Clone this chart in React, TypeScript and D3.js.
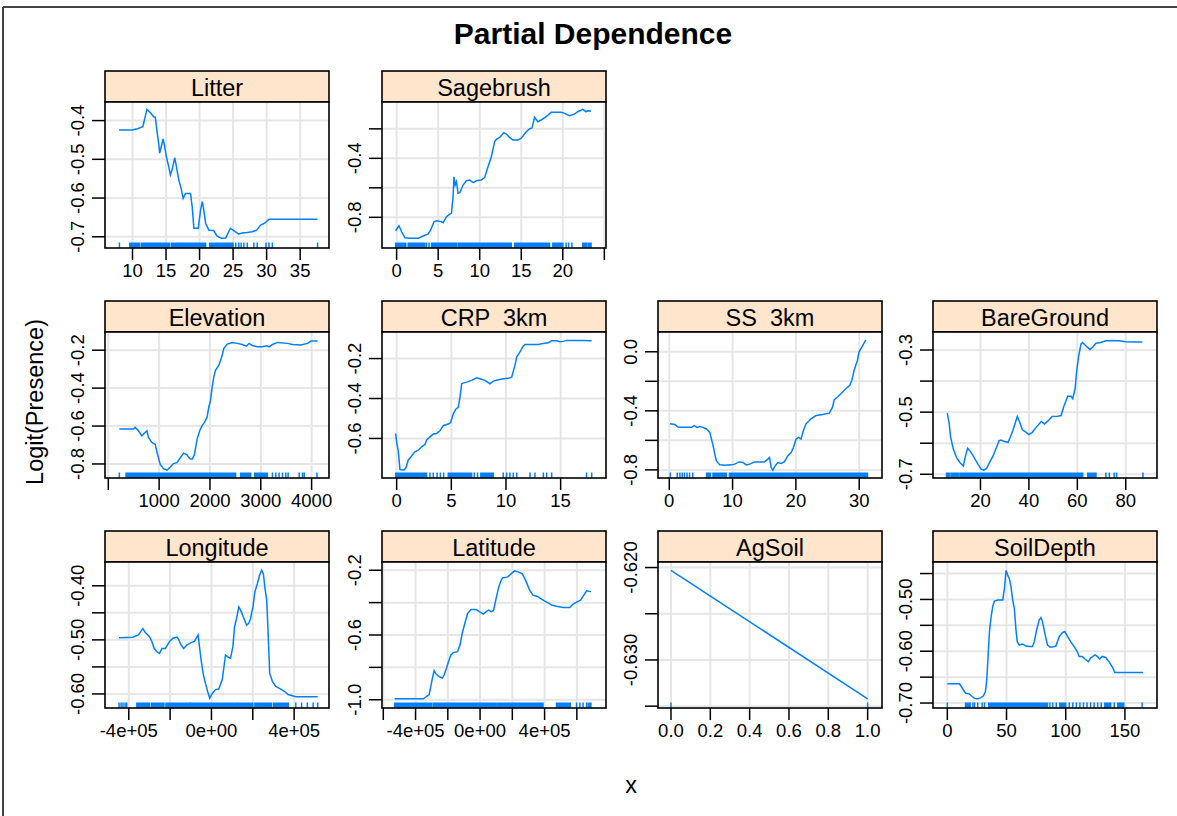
import React from "react";
import * as d3 from "d3";

// ---------- data ----------
const litterCurve = [[8.0,-0.424],[9.9,-0.424],[10.75,-0.421],[11.55,-0.416],[12.15,-0.371],[12.65,-0.379],[13.15,-0.390],[13.4,-0.391],[13.65,-0.428],[13.9,-0.458],[14.05,-0.484],[14.3,-0.467],[14.55,-0.447],[14.75,-0.463],[15.05,-0.493],[15.4,-0.519],[15.65,-0.540],[15.9,-0.527],[16.3,-0.496],[16.55,-0.519],[16.9,-0.553],[17.25,-0.575],[17.55,-0.601],[17.9,-0.588],[18.65,-0.588],[18.9,-0.622],[19.15,-0.678],[19.5,-0.678],[19.8,-0.678],[20.15,-0.631],[20.4,-0.609],[20.6,-0.627],[20.9,-0.665],[21.4,-0.683],[22.1,-0.684],[22.6,-0.698],[23.25,-0.704],[23.9,-0.703],[24.6,-0.678],[25.1,-0.684],[25.85,-0.693],[26.35,-0.690],[27.1,-0.689],[27.85,-0.687],[28.5,-0.683],[29.1,-0.670],[29.7,-0.665],[30.35,-0.655],[31.6,-0.655],[37.6,-0.655]];
const litterRug = [[8.05,8.05],[9.6,11.0],[11.3,15.5],[15.8,20.9],[21.5,25.0],[25.4,25.4],[25.85,25.85],[26.2,26.2],[26.6,26.6],[27.1,27.1],[28.1,28.1],[28.6,28.6],[29.9,29.9],[30.35,30.35],[30.85,30.85],[37.6,37.6]];

const sagebrushCurve = [[-0.12,-0.891],[0.28,-0.857],[0.6,-0.898],[1.0,-0.938],[1.6,-0.942],[2.6,-0.942],[3.2,-0.927],[3.8,-0.913],[4.1,-0.886],[4.5,-0.830],[4.8,-0.823],[5.4,-0.830],[5.6,-0.837],[6.0,-0.796],[6.4,-0.778],[6.6,-0.773],[6.8,-0.656],[6.9,-0.525],[7.05,-0.581],[7.2,-0.559],[7.4,-0.637],[7.6,-0.633],[8.0,-0.581],[8.4,-0.552],[8.8,-0.547],[9.2,-0.565],[9.6,-0.552],[10.2,-0.547],[10.6,-0.529],[11.0,-0.457],[11.4,-0.389],[11.8,-0.287],[12.0,-0.271],[12.4,-0.258],[12.9,-0.226],[13.2,-0.235],[13.6,-0.258],[14.0,-0.276],[14.6,-0.276],[15.0,-0.264],[15.6,-0.220],[16.0,-0.201],[16.3,-0.193],[16.6,-0.122],[17.0,-0.152],[17.4,-0.140],[18.0,-0.118],[18.6,-0.088],[19.8,-0.088],[20.2,-0.095],[20.8,-0.111],[21.4,-0.100],[21.8,-0.084],[22.4,-0.068],[22.8,-0.084],[23.0,-0.077],[23.4,-0.079]];
const sagebrushRug = [[-0.12,1.1],[1.4,3.4],[3.6,3.6],[3.9,3.9],[4.2,7.2],[7.4,13.8],[14.2,18.4],[18.8,20.0],[20.4,20.4],[20.7,20.7],[21.1,21.1],[22.4,22.9],[23.1,23.4]];

const elevationCurve = [[217,-0.616],[494,-0.616],[528,-0.607],[593,-0.625],[660,-0.651],[705,-0.639],[759,-0.625],[790,-0.660],[857,-0.687],[923,-0.696],[968,-0.749],[1022,-0.802],[1087,-0.825],[1154,-0.832],[1219,-0.816],[1284,-0.798],[1352,-0.793],[1417,-0.767],[1482,-0.743],[1549,-0.752],[1601,-0.772],[1648,-0.775],[1693,-0.754],[1747,-0.669],[1798,-0.625],[1846,-0.598],[1891,-0.581],[1944,-0.554],[1976,-0.501],[2010,-0.466],[2043,-0.395],[2075,-0.342],[2108,-0.306],[2174,-0.280],[2241,-0.227],[2272,-0.191],[2340,-0.168],[2438,-0.159],[2537,-0.164],[2636,-0.170],[2721,-0.179],[2766,-0.164],[2834,-0.175],[2932,-0.182],[3031,-0.182],[3116,-0.177],[3162,-0.182],[3229,-0.170],[3328,-0.159],[3393,-0.161],[3525,-0.164],[3624,-0.170],[3788,-0.173],[3920,-0.164],[3986,-0.152],[4118,-0.151]];
const elevationRug = [[217,217],[350,2504],[2603,2800],[2879,3130],[3229,3229],[3295,3295],[3360,3360],[3426,3426],[3492,3492],[3538,3538],[3755,3755],[3820,3820],[3854,3854],[4105,4105]];

const crpCurve = [[-0.09,-0.575],[0,-0.620],[0.15,-0.662],[0.30,-0.755],[0.46,-0.758],[0.67,-0.758],[0.85,-0.747],[1.06,-0.709],[1.37,-0.688],[1.67,-0.667],[1.98,-0.659],[2.29,-0.642],[2.59,-0.629],[2.74,-0.608],[3.05,-0.592],[3.35,-0.578],[3.66,-0.575],[3.96,-0.562],[4.26,-0.536],[4.72,-0.528],[4.94,-0.520],[5.18,-0.477],[5.43,-0.452],[5.64,-0.444],[5.79,-0.394],[5.95,-0.326],[6.09,-0.323],[6.40,-0.318],[6.86,-0.309],[7.32,-0.296],[7.62,-0.301],[8.08,-0.309],[8.54,-0.326],[8.84,-0.313],[9.30,-0.306],[9.75,-0.301],[10.21,-0.299],[10.52,-0.293],[10.82,-0.234],[10.98,-0.192],[11.28,-0.167],[11.58,-0.138],[11.74,-0.130],[12.20,-0.130],[12.96,-0.130],[13.42,-0.124],[13.87,-0.121],[14.18,-0.111],[14.64,-0.111],[14.94,-0.116],[15.24,-0.114],[15.55,-0.109],[16.16,-0.109],[17.07,-0.109],[17.84,-0.111]];
const crpRug = [[-0.09,2.74],[3.05,3.05],[3.35,3.35],[3.7,3.7],[4.0,4.0],[4.3,4.3],[4.72,6.86],[7.1,7.1],[7.4,7.4],[7.7,8.84],[9.75,9.75],[10.06,10.06],[10.36,10.36],[10.67,10.67],[10.98,10.98],[12.2,12.2],[12.65,12.65],[13.42,13.42],[13.72,13.72],[14.18,14.18],[17.37,17.37],[17.84,17.84]];

const ssCurve = [[0.11,-0.488],[0.90,-0.493],[1.42,-0.512],[2.47,-0.512],[3.52,-0.512],[3.93,-0.500],[4.40,-0.512],[4.83,-0.507],[5.35,-0.512],[5.88,-0.523],[6.40,-0.546],[6.92,-0.636],[7.19,-0.693],[7.45,-0.739],[7.97,-0.766],[8.76,-0.768],[9.81,-0.766],[10.33,-0.761],[11.01,-0.746],[11.64,-0.750],[12.17,-0.766],[12.69,-0.761],[13.47,-0.746],[14.26,-0.746],[15.05,-0.746],[15.57,-0.727],[15.83,-0.716],[16.10,-0.784],[16.35,-0.802],[16.73,-0.773],[17.14,-0.750],[17.67,-0.757],[18.19,-0.744],[18.71,-0.705],[19.25,-0.682],[19.61,-0.648],[20.03,-0.591],[20.44,-0.580],[20.82,-0.591],[21.18,-0.534],[21.60,-0.488],[22.39,-0.454],[23.18,-0.432],[24.21,-0.425],[25.27,-0.416],[25.79,-0.375],[26.05,-0.325],[26.42,-0.311],[27.11,-0.284],[27.89,-0.250],[28.52,-0.227],[28.84,-0.193],[29.20,-0.125],[29.72,-0.057],[29.98,0.0],[30.50,0.039],[31.04,0.080]];
const ssRug = [[0.17,0.17],[1.26,1.26],[1.68,1.68],[2.05,2.05],[2.4,2.4],[2.8,2.8],[3.2,3.2],[3.7,3.7],[5.9,6.5],[6.9,9.0],[9.5,31.3]];

const bareGroundCurve = [[6.3,-0.503],[7.0,-0.532],[7.7,-0.581],[8.8,-0.619],[10.1,-0.646],[11.5,-0.662],[12.9,-0.673],[14.0,-0.635],[14.7,-0.616],[15.6,-0.624],[17.0,-0.641],[19.0,-0.668],[20.4,-0.684],[21.4,-0.687],[22.5,-0.681],[23.8,-0.662],[25.2,-0.641],[26.6,-0.614],[27.7,-0.592],[28.6,-0.590],[29.6,-0.594],[31.4,-0.597],[32.3,-0.581],[33.4,-0.559],[34.5,-0.532],[35.2,-0.514],[36.2,-0.532],[37.3,-0.557],[38.9,-0.565],[40.0,-0.572],[41.4,-0.565],[43.0,-0.549],[45.1,-0.530],[46.4,-0.538],[47.8,-0.529],[49.6,-0.514],[51.9,-0.513],[53.3,-0.511],[54.3,-0.484],[55.4,-0.462],[56.0,-0.449],[57.4,-0.449],[58.1,-0.457],[59.1,-0.424],[59.7,-0.370],[60.5,-0.322],[61.5,-0.281],[62.2,-0.276],[63.6,-0.287],[65.2,-0.298],[66.3,-0.291],[67.7,-0.278],[69.7,-0.276],[71.8,-0.270],[74.5,-0.269],[77.3,-0.270],[80.0,-0.273],[82.7,-0.274],[86.8,-0.274]];
const bareGroundRug = [[6.0,7.4],[8.1,10.8],[11.5,62.2],[64.3,67.7],[71.8,71.8],[73.2,73.2],[75.2,75.2],[76.2,76.2],[87.1,87.1]];

const longitudeCurve = [[-447100,-0.496],[-380500,-0.495],[-353300,-0.491],[-332000,-0.479],[-320800,-0.486],[-299900,-0.494],[-288200,-0.503],[-277000,-0.516],[-263900,-0.522],[-251300,-0.525],[-239600,-0.516],[-223600,-0.516],[-215300,-0.511],[-202700,-0.503],[-186100,-0.497],[-166700,-0.495],[-158900,-0.499],[-147300,-0.509],[-134600,-0.516],[-118100,-0.509],[-98700,-0.505],[-82600,-0.503],[-69500,-0.494],[-64600,-0.491],[-56900,-0.516],[-50100,-0.537],[-40300,-0.562],[-29200,-0.580],[-18000,-0.596],[-8300,-0.608],[3400,-0.599],[19400,-0.592],[35500,-0.591],[52000,-0.574],[59800,-0.552],[68000,-0.528],[76300,-0.531],[92300,-0.534],[103500,-0.513],[111800,-0.476],[121500,-0.460],[132700,-0.439],[140900,-0.445],[157000,-0.460],[170100,-0.473],[181300,-0.469],[189500,-0.460],[200700,-0.439],[210400,-0.411],[222100,-0.396],[233300,-0.380],[243000,-0.371],[251300,-0.378],[259000,-0.405],[267300,-0.426],[273600,-0.482],[281900,-0.562],[295000,-0.577],[311000,-0.586],[335300,-0.591],[356200,-0.596],[370800,-0.601],[408200,-0.605],[513700,-0.605]];
const longitudeRug = [[-447000,-447000],[-437000,-437000],[-428000,-428000],[-418000,-418000],[-410000,-410000],[-361000,-300000],[-290000,-230000],[-220000,-102000],[-102000,125000],[130000,200000],[210000,290000],[300000,372000],[408000,408000],[436000,436000],[464000,464000],[492000,492000],[514000,514000]];

const latitudeCurve = [[-529600,-0.994],[-482300,-0.994],[-398800,-0.994],[-351400,-0.994],[-336500,-0.983],[-315900,-0.969],[-305300,-0.918],[-295300,-0.866],[-284800,-0.820],[-274200,-0.840],[-253600,-0.857],[-233000,-0.866],[-222400,-0.846],[-208100,-0.805],[-195600,-0.764],[-180700,-0.723],[-166400,-0.709],[-139600,-0.703],[-124600,-0.662],[-108400,-0.580],[-91600,-0.518],[-77300,-0.467],[-56100,-0.442],[-24900,-0.442],[-4400,-0.456],[20600,-0.471],[37400,-0.456],[53600,-0.446],[68500,-0.456],[82900,-0.450],[99700,-0.374],[115900,-0.303],[130900,-0.262],[140800,-0.247],[172000,-0.241],[193200,-0.221],[213700,-0.204],[234300,-0.210],[261700,-0.221],[286600,-0.272],[307200,-0.323],[327800,-0.354],[352700,-0.360],[373900,-0.374],[400700,-0.391],[427400,-0.405],[442400,-0.415],[473600,-0.422],[514700,-0.430],[556400,-0.430],[577000,-0.409],[601900,-0.395],[623100,-0.385],[639300,-0.360],[660500,-0.327],[670500,-0.329],[687300,-0.333]];
const latitudeRug = [[-530000,-300000],[-290000,100000],[110000,390000],[474000,560000],[598000,598000],[619000,619000],[639000,639000],[660000,660000],[670000,687000]];

const agSoilCurve = [[0,-0.6203],[1,-0.6342]];
const agSoilRug = [[0,0],[1,1]];

const soilDepthCurve = [[0,-0.663],[10.3,-0.663],[12.6,-0.671],[15.4,-0.681],[18.2,-0.682],[20.2,-0.686],[22.4,-0.690],[24.9,-0.692],[28.0,-0.690],[30.5,-0.686],[32.2,-0.678],[33.3,-0.655],[34.5,-0.607],[35.6,-0.562],[37.0,-0.533],[38.4,-0.513],[39.8,-0.503],[42.6,-0.501],[46.8,-0.501],[48.2,-0.479],[49.6,-0.444],[51.0,-0.453],[52.4,-0.460],[53.8,-0.476],[55.2,-0.501],[56.6,-0.517],[58.0,-0.559],[59.1,-0.582],[60.8,-0.588],[63.6,-0.586],[66.4,-0.590],[69.2,-0.591],[72.0,-0.591],[73.4,-0.582],[75.4,-0.559],[77.6,-0.540],[79.1,-0.535],[80.4,-0.543],[82.7,-0.569],[84.6,-0.588],[86.6,-0.592],[88.8,-0.592],[91.7,-0.590],[94.5,-0.572],[97.2,-0.564],[99.2,-0.562],[101.4,-0.571],[104.3,-0.582],[107.1,-0.591],[109.8,-0.601],[111.3,-0.610],[114.0,-0.610],[116.3,-0.615],[119.1,-0.620],[121.1,-0.613],[124.7,-0.607],[126.7,-0.610],[128.7,-0.615],[130.9,-0.610],[133.7,-0.612],[136.5,-0.620],[139.3,-0.630],[141.5,-0.641],[144.9,-0.641],[156.1,-0.641],[165.4,-0.641]];
const soilDepthRug = [[0,0],[15.4,19.3],[21.6,21.6],[23.0,23.0],[25.7,25.7],[29.4,29.4],[31.4,31.4],[35,84.6],[86.6,86.6],[89,89],[92,92],[95,100],[103,103],[106,106],[109,109],[112,112],[115,115],[118,118],[121,121],[124,124],[127,127],[130,130],[133,138],[141,141],[144,149],[164.5,164.5]];

// tick values and labels ("" = tick without label)
const litterXTicks = [10, 15, 20, 25, 30, 35];
const litterXLabels = ["10", "15", "20", "25", "30", "35"];
const litterYTicks = [-0.4, -0.5, -0.6, -0.7];
const litterYLabels = ["-0.4", "-0.5", "-0.6", "-0.7"];
const sageXTicks = [0, 5, 10, 15, 20, 25];
const sageXLabels = ["0", "5", "10", "15", "20", ""];
const sageYTicks = [-0.2, -0.4, -0.6, -0.8];
const sageYLabels = ["", "-0.4", "", "-0.8"];
const elevXTicks = [0, 1000, 2000, 3000, 4000];
const elevXLabels = ["", "1000", "2000", "3000", "4000"];
const elevYTicks = [-0.2, -0.4, -0.6, -0.8];
const elevYLabels = ["-0.2", "-0.4", "-0.6", "-0.8"];
const crpXTicks = [0, 5, 10, 15];
const crpXLabels = ["0", "5", "10", "15"];
const crpYTicks = [-0.2, -0.4, -0.6];
const crpYLabels = ["-0.2", "-0.4", "-0.6"];
const ssXTicks = [0, 10, 20, 30];
const ssXLabels = ["0", "10", "20", "30"];
const ssYTicks = [0, -0.2, -0.4, -0.6, -0.8];
const ssYLabels = ["0.0", "", "-0.4", "", "-0.8"];
const bareXTicks = [20, 40, 60, 80];
const bareXLabels = ["20", "40", "60", "80"];
const bareYTicks = [-0.3, -0.4, -0.5, -0.6, -0.7];
const bareYLabels = ["-0.3", "", "-0.5", "", "-0.7"];
const lonXTicks = [-400000, -200000, 0, 200000, 400000];
const lonXLabels = ["-4e+05", "", "0e+00", "", "4e+05"];
const lonYTicks = [-0.4, -0.45, -0.5, -0.55, -0.6];
const lonYLabels = ["-0.40", "", "-0.50", "", "-0.60"];
const latXTicks = [-600000, -400000, -200000, 0, 200000, 400000, 600000];
const latXLabels = ["", "-4e+05", "", "0e+00", "", "4e+05", ""];
const latYTicks = [-0.2, -0.4, -0.6, -0.8, -1.0];
const latYLabels = ["-0.2", "", "-0.6", "", "-1.0"];
const agXTicks = [0, 0.2, 0.4, 0.6, 0.8, 1.0];
const agXLabels = ["0.0", "0.2", "0.4", "0.6", "0.8", "1.0"];
const agYTicks = [-0.62, -0.625, -0.63, -0.635];
const agYLabels = ["-0.620", "", "-0.630", ""];
const depthXTicks = [0, 50, 100, 150];
const depthXLabels = ["0", "50", "100", "150"];
const depthYTicks = [-0.45, -0.5, -0.55, -0.6, -0.65, -0.7];
const depthYLabels = ["", "-0.50", "", "-0.60", "", "-0.70"];

const panelNames = ["Litter", "Sagebrush", "Elevation", "CRP  3km", "SS  3km", "BareGround", "Longitude", "Latitude", "AgSoil", "SoilDepth"];

// ---------- layout ----------
const COL_LEFT = [105, 382, 658, 933];
const ROW_TOP = [102, 332, 562];
const PW = 224;
const PH = 146;
const STRIP = 31;
const FONT = "'Liberation Sans', Arial, Helvetica, sans-serif";
const LINE_COL = "#0080ff";

const panels = [
  { name: panelNames[0], col: 0, row: 0, curve: litterCurve, rug: litterRug, xd: [5.9, 39.3], yd: [-0.729, -0.352], xt: litterXTicks, xl: litterXLabels, yt: litterYTicks, yl: litterYLabels },
  { name: panelNames[1], col: 1, row: 0, curve: sagebrushCurve, rug: sagebrushRug, xd: [-1.76, 25.2], yd: [-1.008, -0.018], xt: sageXTicks, xl: sageXLabels, yt: sageYTicks, yl: sageYLabels },
  { name: panelNames[2], col: 0, row: 1, curve: elevationCurve, rug: elevationRug, xd: [-65, 4342], yd: [-0.874, -0.104], xt: elevXTicks, xl: elevXLabels, yt: elevYTicks, yl: elevYLabels },
  { name: panelNames[3], col: 1, row: 1, curve: crpCurve, rug: crpRug, xd: [-1.34, 19.15], yd: [-0.798, -0.067], xt: crpXTicks, xl: crpXLabels, yt: crpYTicks, yl: crpYLabels },
  { name: panelNames[4], col: 2, row: 1, curve: ssCurve, rug: ssRug, xd: [-1.78, 33.6], yd: [-0.855, 0.134], xt: ssXTicks, xl: ssXLabels, yt: ssYTicks, yl: ssYLabels },
  { name: panelNames[5], col: 3, row: 1, curve: bareGroundCurve, rug: bareGroundRug, xd: [0.4, 92.9], yd: [-0.712, -0.242], xt: bareXTicks, xl: bareXLabels, yt: bareYTicks, yl: bareYLabels },
  { name: panelNames[6], col: 0, row: 2, curve: longitudeCurve, rug: longitudeRug, xd: [-515000, 568700], yd: [-0.626, -0.356], xt: lonXTicks, xl: lonXLabels, yt: lonYTicks, yl: lonYLabels },
  { name: panelNames[7], col: 1, row: 2, curve: latitudeCurve, rug: latitudeRug, xd: [-608000, 780700], yd: [-1.051, -0.149], xt: latXTicks, xl: latXLabels, yt: latYTicks, yl: latYLabels },
  { name: panelNames[8], col: 2, row: 2, curve: agSoilCurve, rug: agSoilRug, xd: [-0.066, 1.073], yd: [-0.6352, -0.6194], xt: agXTicks, xl: agXLabels, yt: agYTicks, yl: agYLabels },
  { name: panelNames[9], col: 3, row: 2, curve: soilDepthCurve, rug: soilDepthRug, xd: [-12.1, 177.1], yd: [-0.7096, -0.4277], xt: depthXTicks, xl: depthXLabels, yt: depthYTicks, yl: depthYLabels },
];

function Panel({ p }: { p: any }) {
  const left = COL_LEFT[p.col];
  const top = ROW_TOP[p.row];
  const x = d3.scaleLinear().domain(p.xd).range([left, left + PW]);
  const y = d3.scaleLinear().domain(p.yd).range([top + PH, top]);
  const line = d3.line<number[]>().x((d) => x(d[0])).y((d) => y(d[1]));
  const clipId = "clip-" + p.col + "-" + p.row;
  return (
    <g>
      <defs>
        <clipPath id={clipId}>
          <rect x={left} y={top} width={PW} height={PH} />
        </clipPath>
      </defs>
      {/* strip */}
      <rect x={left} y={top - STRIP} width={PW} height={STRIP} fill="#ffe5cc" stroke="#000" strokeWidth={1.6} />
      <text x={left + PW / 2} y={top - 6} textAnchor="middle" fontFamily={FONT} fontSize={23.5} fill="#000" style={{ whiteSpace: "pre" }}>
        {p.name}
      </text>
      <rect x={left} y={top} width={PW} height={PH} fill="#fff" />
      <g clipPath={`url(#${clipId})`}>
        {p.xt.map((v: number, i: number) => (
          <line key={"gx" + i} x1={x(v)} x2={x(v)} y1={top} y2={top + PH} stroke="#e6e6e6" strokeWidth={2} />
        ))}
        {p.yt.map((v: number, i: number) => (
          <line key={"gy" + i} x1={left} x2={left + PW} y1={y(v)} y2={y(v)} stroke="#e6e6e6" strokeWidth={2} />
        ))}
        <path d={line(p.curve) || ""} fill="none" stroke={LINE_COL} strokeWidth={1.5} />
        {p.rug.map((r: number[], i: number) => (
          <rect key={"r" + i} x={x(r[0]) - 0.75} width={Math.max(1.5, x(r[1]) - x(r[0]) + 1.5)} y={top + PH - 5.5} height={5.5} fill={LINE_COL} />
        ))}
      </g>
      <rect x={left} y={top} width={PW} height={PH} fill="none" stroke="#000" strokeWidth={1.6} />
      {/* x ticks */}
      {p.xt.map((v: number, i: number) => (
        <g key={"xt" + i}>
          <line x1={x(v)} x2={x(v)} y1={top + PH} y2={top + PH + 12} stroke="#000" strokeWidth={1.5} />
          {p.xl[i] !== "" && (
            <text x={x(v)} y={top + PH + 29} textAnchor="middle" fontFamily={FONT} fontSize={18.5} fill="#000">
              {p.xl[i]}
            </text>
          )}
        </g>
      ))}
      {/* y ticks */}
      {p.yt.map((v: number, i: number) => (
        <g key={"yt" + i}>
          <line x1={left - 13} x2={left} y1={y(v)} y2={y(v)} stroke="#000" strokeWidth={1.5} />
          {p.yl[i] !== "" && (
            <text
              transform={`translate(${left - 21},${y(v)}) rotate(-90)`}
              textAnchor="middle"
              fontFamily={FONT}
              fontSize={18.5}
              fill="#000"
            >
              {p.yl[i]}
            </text>
          )}
        </g>
      ))}
    </g>
  );
}

export default function App() {
  return (
    <svg width={1177} height={816} style={{ position: "absolute", left: 0, top: 0, background: "#fff" }}>
      <rect x={0} y={0} width={1177} height={816} fill="#fff" />
      <line x1={3} x2={1177} y1={7} y2={7} stroke="#444" strokeWidth={2} />
      <line x1={3} x2={3} y1={7} y2={816} stroke="#444" strokeWidth={2} />
      <text x={593} y={44} textAnchor="middle" fontFamily={FONT} fontWeight="bold" fontSize={30} fill="#000">
        Partial Dependence
      </text>
      {panels.map((p, i) => (
        <Panel key={i} p={p} />
      ))}
      <text x={631} y={793} textAnchor="middle" fontFamily={FONT} fontSize={23.5} fill="#000">
        x
      </text>
      <text transform="translate(43,402) rotate(-90)" textAnchor="middle" fontFamily={FONT} fontSize={23.5} fill="#000">
        Logit(Presence)
      </text>
    </svg>
  );
}
